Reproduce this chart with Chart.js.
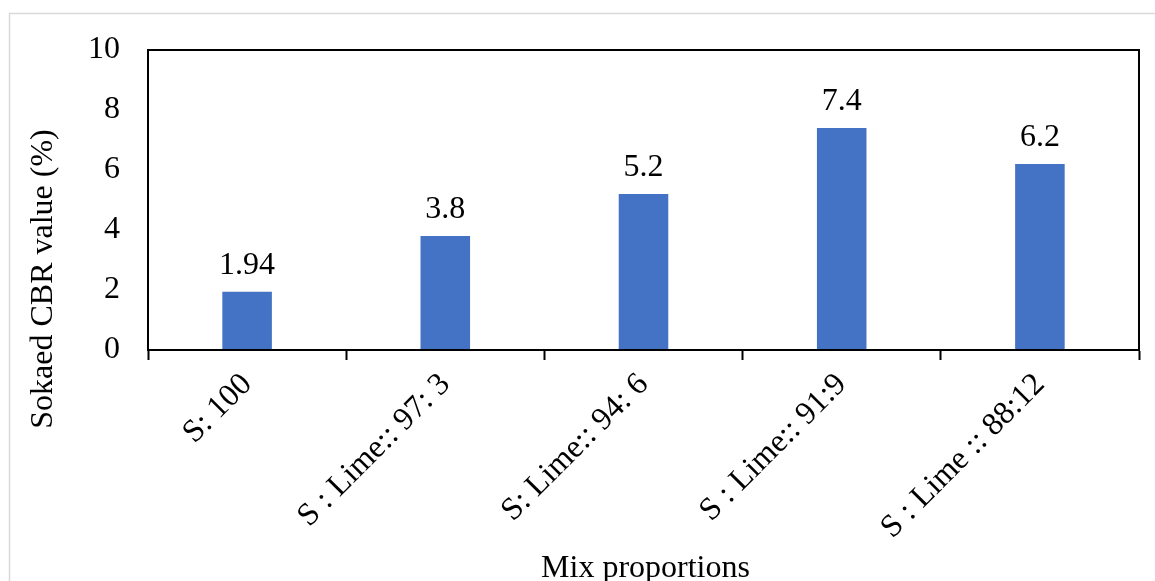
<!DOCTYPE html>
<html>
<head>
<meta charset="utf-8">
<script src="https://cdn.jsdelivr.net/npm/chart.js@4/dist/chart.umd.min.js"></script>
<style>
  html, body { margin: 0; padding: 0; background: #fff; }
  #wrap { width: 1155px; height: 581px; }
</style>
</head>
<body>
<div id="wrap"><canvas id="cbr" width="1155" height="581"></canvas></div>
<script>
// Soaked CBR results for each soil : lime mix
const categories = ['S: 100', 'S : Lime:: 97: 3', 'S: Lime:: 94: 6', 'S : Lime:: 91:9', 'S : Lime :: 88:12'];
const cbrValues = [1.94, 3.8, 5.2, 7.4, 6.2];
const yTicks = [0, 2, 4, 6, 8, 10];

const FONT = '"Liberation Serif", "Times New Roman", serif';

// Outer frame, plot box, axis titles and value labels
const decorations = {
  id: 'decorations',
  beforeDraw(chart) {
    const ctx = chart.ctx;
    ctx.save();
    ctx.strokeStyle = '#d9d9d9';
    ctx.lineWidth = 1.5;
    ctx.strokeRect(9.5, 13.5, 1300, 800);
    ctx.restore();
  },
  afterDraw(chart) {
    const ctx = chart.ctx;
    const a = chart.chartArea;
    ctx.save();
    // plot box
    ctx.strokeStyle = '#000';
    ctx.lineWidth = 2;
    ctx.strokeRect(a.left, a.top, a.right - a.left, a.bottom - a.top);

    ctx.fillStyle = '#000';
    ctx.font = '32px ' + FONT;
    // value labels above bars
    ctx.textAlign = 'center';
    ctx.textBaseline = 'alphabetic';
    const meta = chart.getDatasetMeta(0);
    meta.data.forEach((bar, i) => {
      ctx.fillText(String(cbrValues[i]), bar.x, bar.y - 18);
    });
    // x axis title
    ctx.fillText('Mix proportions', (a.left + a.right) / 2 + 2, 577);
    // y axis title
    ctx.translate(52, 279);
    ctx.rotate(-Math.PI / 2);
    ctx.fillText('Sokaed CBR value (%)', 0, 0);
    ctx.restore();
  }
};

new Chart(document.getElementById('cbr'), {
  type: 'bar',
  data: {
    labels: categories,
    datasets: [{
      data: cbrValues,
      backgroundColor: '#4472C4',
      borderWidth: 0,
      barPercentage: 0.25,
      categoryPercentage: 1.0
    }]
  },
  options: {
    responsive: false,
    animation: false,
    layout: { padding: { top: 50, right: 16, left: 0, bottom: 0 } },
    plugins: {
      legend: { display: false },
      tooltip: { enabled: false }
    },
    scales: {
      x: {
        offset: true,
        grid: {
          offset: true,
          drawOnChartArea: false,
          drawTicks: true,
          tickLength: 10,
          tickWidth: 2,
          color: '#000'
        },
        border: { display: true, color: '#000', width: 2 },
        ticks: {
          color: '#000',
          font: { family: FONT, size: 32 },
          minRotation: 45,
          maxRotation: 45,
          padding: 6,
          autoSkip: false
        },
        afterFit(scale) { scale.height = 231; }
      },
      y: {
        min: 0,
        max: 10,
        afterBuildTicks(scale) { scale.ticks = yTicks.map(v => ({ value: v })); },
        grid: { display: false, drawTicks: false },
        border: { display: true, color: '#000', width: 2 },
        ticks: {
          color: '#000',
          font: { family: FONT, size: 32 },
          padding: 28
        },
        afterFit(scale) { scale.width = 148; }
      }
    }
  },
  plugins: [decorations]
});
</script>
</body>
</html>
